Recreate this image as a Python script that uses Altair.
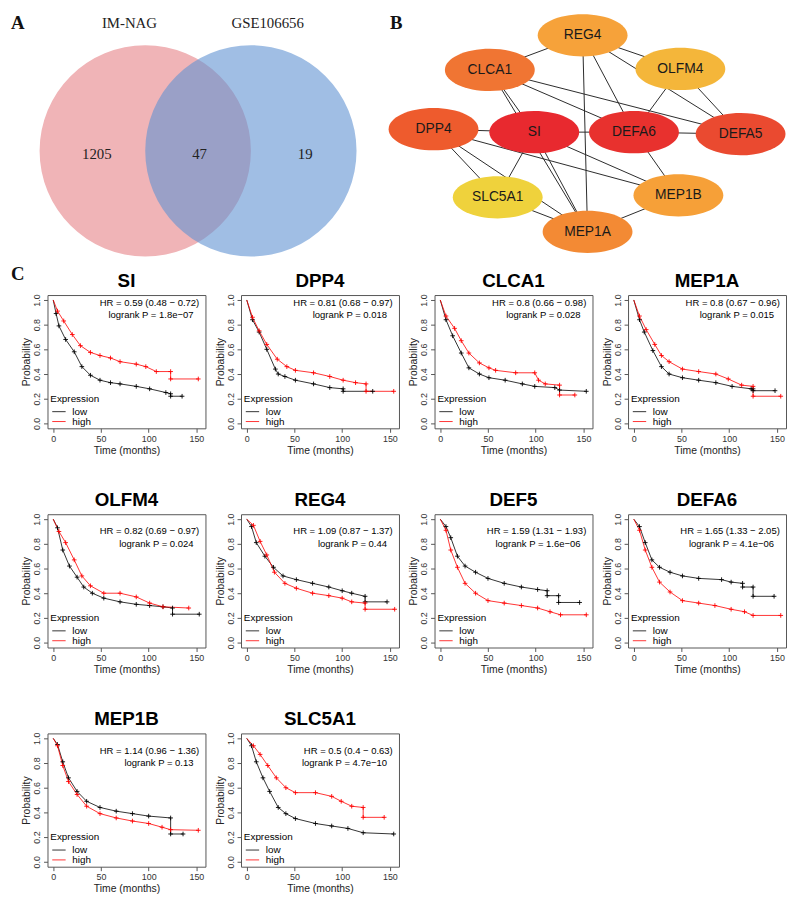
import altair as alt
import pandas as pd

# ---------------- Panel A : Venn ----------------
VENN_SETS = ["IM-NAG", "GSE106656"]
VENN_COUNTS = [1205, 47, 19]          # only IM-NAG, shared, only GSE106656
VENN_COLORS = ["#F0B4B7", "#6193D2"]

# ---------------- Panel B : network ----------------
NODES = ["REG4", "CLCA1", "OLFM4", "DPP4", "SI", "DEFA6", "DEFA5", "SLC5A1", "MEP1B", "MEP1A"]
NODE_COLORS = ["#F6A23A", "#F07533", "#F4B63A", "#EE5B2D", "#E8292F", "#E8312E",
               "#EA4A30", "#EFD23C", "#F6A038", "#F38A34"]
EDGES = [("REG4", "CLCA1"), ("REG4", "OLFM4"), ("REG4", "DEFA5"), ("REG4", "DEFA6"), ("REG4", "MEP1A"),
         ("CLCA1", "SI"), ("CLCA1", "MEP1A"), ("CLCA1", "DEFA6"), ("CLCA1", "DEFA5"),
         ("OLFM4", "DEFA6"), ("OLFM4", "DEFA5"),
         ("DPP4", "SI"), ("DPP4", "SLC5A1"), ("DPP4", "MEP1B"), ("DPP4", "MEP1A"),
         ("SI", "DEFA6"), ("SI", "SLC5A1"), ("SI", "MEP1A"), ("SI", "MEP1B"),
         ("DEFA6", "DEFA5"), ("DEFA6", "MEP1B"),
         ("SLC5A1", "MEP1A"), ("MEP1B", "MEP1A")]

# ---------------- Panel C : Kaplan-Meier ----------------
GENES = ["SI", "DPP4", "CLCA1", "MEP1A", "OLFM4", "REG4", "DEF5", "DEFA6", "MEP1B", "SLC5A1"]
HR = ["0.59 (0.48 \u2212 0.72)", "0.81 (0.68 \u2212 0.97)", "0.8 (0.66 \u2212 0.98)", "0.8 (0.67 \u2212 0.96)",
      "0.82 (0.69 \u2212 0.97)", "1.09 (0.87 \u2212 1.37)", "1.59 (1.31 \u2212 1.93)", "1.65 (1.33 \u2212 2.05)",
      "1.14 (0.96 \u2212 1.36)", "0.5 (0.4 \u2212 0.63)"]
LOGRANK_P = ["1.8e\u221207", "0.018", "0.028", "0.015", "0.024", "0.44", "1.6e\u221206", "4.1e\u221206",
             "0.13", "4.7e\u221210"]
GROUPS = ["low", "high"]
GROUP_COLORS = ["black", "red"]

SI_low = [(0, 1.0), (3, 0.89), (6, 0.79), (13, 0.68), (22, 0.58), (30, 0.46), (39, 0.39), (49, 0.35),
          (60, 0.33), (70, 0.32), (87, 0.30), (101, 0.28), (118, 0.25), (123, 0.24), (123, 0.22), (135, 0.22)]
SI_high = [(0, 1.0), (4.5, 0.91), (11, 0.83), (20, 0.72), (28.5, 0.63), (39, 0.575), (49, 0.55), (60, 0.53),
           (70, 0.50), (87, 0.48), (97, 0.46), (108, 0.42), (123, 0.42), (123, 0.36), (152, 0.36)]
DPP4_low = [(0, 1.0), (6, 0.84), (13, 0.74), (21, 0.60), (30, 0.44), (33, 0.40), (40, 0.38), (51, 0.35),
            (70, 0.32), (87, 0.29), (101, 0.28), (101, 0.26), (132, 0.26)]
DPP4_high = [(0, 1.0), (6, 0.86), (13, 0.75), (21, 0.64), (32, 0.52), (42, 0.46), (51, 0.43), (70, 0.41),
             (87, 0.38), (101, 0.35), (114, 0.33), (125, 0.32), (125, 0.26), (154, 0.26)]
CLCA1_low = [(0, 1.0), (6, 0.84), (13, 0.71), (22, 0.57), (30, 0.45), (41, 0.40), (51, 0.37), (68, 0.35),
             (86, 0.32), (99, 0.30), (120, 0.29), (125, 0.27), (153, 0.26)]
CLCA1_high = [(0, 1.0), (6, 0.87), (15, 0.77), (22, 0.67), (30, 0.57), (41, 0.49), (51, 0.45), (58, 0.43),
              (79, 0.41), (99, 0.41), (103, 0.35), (110, 0.32), (125, 0.31), (125, 0.23), (141, 0.23)]
MEP1A_low = [(0, 1.0), (6, 0.84), (11, 0.74), (20, 0.59), (29, 0.46), (37, 0.40), (51, 0.37), (68, 0.35),
             (86, 0.33), (103, 0.30), (123, 0.28), (125, 0.28), (125, 0.265), (148, 0.265)]
MEP1A_high = [(0, 1.0), (6, 0.87), (13, 0.76), (22, 0.64), (29, 0.55), (37, 0.50), (51, 0.44), (68, 0.42),
              (86, 0.40), (99, 0.36), (113, 0.31), (125, 0.30), (125, 0.22), (154, 0.22)]
OLFM4_low = [(0, 1.0), (4.5, 0.93), (10, 0.75), (17, 0.62), (25, 0.53), (32, 0.45), (41, 0.40), (53, 0.36),
             (70, 0.33), (87, 0.31), (101, 0.30), (115, 0.29), (125, 0.28), (125, 0.23), (153, 0.23)]
OLFM4_high = [(0, 1.0), (6, 0.90), (13, 0.81), (22, 0.67), (30, 0.54), (39, 0.46), (53, 0.40), (70, 0.40),
              (87, 0.37), (101, 0.32), (115, 0.29), (142, 0.28)]
REG4_low = [(0, 1.0), (5, 0.94), (10, 0.81), (19, 0.70), (28, 0.61), (38, 0.54), (52, 0.51), (69, 0.48),
            (86, 0.45), (100, 0.42), (110, 0.40), (124, 0.375), (124, 0.33), (147, 0.33)]
REG4_high = [(0, 1.0), (7, 0.95), (14, 0.82), (21, 0.71), (29, 0.57), (40, 0.48), (52, 0.44), (69, 0.40),
             (86, 0.38), (100, 0.36), (110, 0.33), (124, 0.32), (124, 0.27), (155, 0.27)]
DEF5_low = [(0, 1.0), (6, 0.94), (11, 0.85), (18, 0.70), (26, 0.62), (37, 0.57), (50, 0.52), (67, 0.48),
            (85, 0.45), (102, 0.43), (112, 0.42), (112, 0.38), (124, 0.38), (124, 0.325), (146, 0.325)]
DEF5_high = [(0, 1.0), (6, 0.91), (11, 0.75), (18, 0.61), (26, 0.48), (37, 0.40), (50, 0.34), (67, 0.32),
             (85, 0.30), (102, 0.28), (115, 0.25), (126, 0.225), (153, 0.225)]
DEFA6_low = [(0, 1.0), (6, 0.94), (12, 0.81), (19, 0.67), (27, 0.61), (38, 0.57), (51, 0.54), (68, 0.52),
             (92, 0.51), (102, 0.49), (114, 0.48), (114, 0.45), (125, 0.45), (125, 0.375), (147, 0.375)]
DEFA6_high = [(0, 1.0), (6, 0.91), (12, 0.75), (19, 0.61), (27, 0.49), (38, 0.41), (51, 0.34), (68, 0.32),
              (85, 0.30), (102, 0.27), (116, 0.25), (125, 0.22), (154, 0.22)]
MEP1B_low = [(0, 1.0), (4.5, 0.95), (10, 0.81), (16, 0.68), (25, 0.57), (35, 0.49), (49, 0.44), (66, 0.41),
             (83, 0.39), (100, 0.37), (123, 0.355), (123, 0.225), (136, 0.225)]
MEP1B_high = [(0, 1.0), (4.5, 0.94), (10, 0.78), (16, 0.65), (25, 0.545), (35, 0.45), (49, 0.39), (66, 0.355),
              (83, 0.33), (100, 0.31), (114, 0.28), (123, 0.26), (152, 0.255)]
SLC5A1_low = [(0, 1.0), (5, 0.94), (10, 0.81), (17, 0.68), (24, 0.57), (33, 0.44), (41, 0.39), (51, 0.35),
              (72, 0.31), (89, 0.29), (106, 0.27), (122, 0.235), (154, 0.225)]
SLC5A1_high = [(0, 1.0), (7, 0.94), (14, 0.87), (22, 0.78), (31, 0.68), (41, 0.60), (51, 0.56), (72, 0.56),
               (89, 0.53), (99, 0.49), (110, 0.45), (122, 0.44), (122, 0.36), (144, 0.36)]

CURVES = {"SI": (SI_low, SI_high), "DPP4": (DPP4_low, DPP4_high), "CLCA1": (CLCA1_low, CLCA1_high),
          "MEP1A": (MEP1A_low, MEP1A_high), "OLFM4": (OLFM4_low, OLFM4_high), "REG4": (REG4_low, REG4_high),
          "DEF5": (DEF5_low, DEF5_high), "DEFA6": (DEFA6_low, DEFA6_high), "MEP1B": (MEP1B_low, MEP1B_high),
          "SLC5A1": (SLC5A1_low, SLC5A1_high)}

# ---------------- layout (pixels of the top panel) ----------------
W0, H0 = 779, 262
VENN_CX = [136, 243]
VENN_CY = 138
VENN_D = 214                      # circle diameter in px
NODE_X = [579, 485, 678, 428, 530, 631, 739, 493, 676, 584]
NODE_Y = [21, 56, 55, 116, 119, 119, 121, 185, 183, 220]

SERIF = "Liberation Serif"
SANS = "Liberation Sans"

xs = alt.Scale(domain=[0, W0], nice=False, zero=False)
ys = alt.Scale(domain=[0, H0], nice=False, zero=False, reverse=True)


def PX(f):
    return alt.X(f, type="quantitative", scale=xs, axis=None)


def PY(f):
    return alt.Y(f, type="quantitative", scale=ys, axis=None)


venn_df = pd.DataFrame({"set": VENN_SETS, "x": VENN_CX, "y": [VENN_CY, VENN_CY],
                        "col": VENN_COLORS, "op": [1.0, 0.6]})
circles = alt.Chart(venn_df).mark_circle(size=VENN_D ** 2, strokeWidth=0).encode(
    x=PX("x"), y=PY("y"),
    color=alt.Color("col:N", scale=None),
    opacity=alt.Opacity("op:Q", scale=None),
)
set_lab = alt.Chart(pd.DataFrame({"txt": VENN_SETS, "x": [120, 260], "y": [9, 9]})).mark_text(
    font=SERIF, fontSize=15, color="#222", baseline="middle").encode(x=PX("x"), y=PY("y"), text="txt:N")
cnt_lab = alt.Chart(pd.DataFrame({"txt": [str(c) for c in VENN_COUNTS], "x": [87, 191, 298],
                                  "y": [141, 141, 141]})).mark_text(
    font=SERIF, fontSize=15, color="#222", baseline="middle").encode(x=PX("x"), y=PY("y"), text="txt:N")

pos = {n: (x, y) for n, x, y in zip(NODES, NODE_X, NODE_Y)}
edge_df = pd.DataFrame([{"x": pos[a][0], "y": pos[a][1], "x2": pos[b][0], "y2": pos[b][1]} for a, b in EDGES])
edges = alt.Chart(edge_df).mark_rule(color="#2a2a2a", strokeWidth=1).encode(
    x=PX("x"), y=PY("y"), x2="x2:Q", y2="y2:Q")
ELLIPSE = ("M -1 0 C -1 -0.26 -0.552 -0.47 0 -0.47 C 0.552 -0.47 1 -0.26 1 0 "
           "C 1 0.26 0.552 0.47 0 0.47 C -0.552 0.47 -1 0.26 -1 0 Z")
node_df = pd.DataFrame({"name": NODES, "x": NODE_X, "y": NODE_Y, "col": NODE_COLORS})
nodes = alt.Chart(node_df).mark_point(shape=ELLIPSE, size=91 * 91, filled=True, opacity=1, strokeWidth=0).encode(
    x=PX("x"), y=PY("y"), color=alt.Color("col:N", scale=None))
node_lab = alt.Chart(node_df).mark_text(font=SANS, fontSize=14, color="#1a1a1a", baseline="middle").encode(
    x=PX("x"), y=PY("y"), text="name:N")
panel_lab = alt.Chart(pd.DataFrame({"txt": ["A", "B", "C"], "x": [0, 384, 0], "y": [0, 0, 254]})).mark_text(
    font=SERIF, fontSize=19, fontWeight="bold", color="#111", align="left", baseline="top").encode(
    x=PX("x"), y=PY("y"), text="txt:N")

top = alt.layer(circles, set_lab, cnt_lab, edges, nodes, node_lab, panel_lab).properties(
    width=W0, height=H0, view=alt.ViewBackground(strokeOpacity=0))

# ---------------- KM panels ----------------
KM_W, KM_H = 160, 135
GCOL = dict(zip(GROUPS, GROUP_COLORS))


def km(k, hr_s, lr_s):
    gene = GENES[k]
    low, high = CURVES[gene]
    rows = []
    for grp, pts in zip(GROUPS, (low, high)):
        for i, (t, s) in enumerate(pts):
            rows.append({"grp": grp, "col": GCOL[grp], "t": t, "s": s, "i": i})
    df = pd.DataFrame(rows)
    xenc = alt.X("t:Q", scale=alt.Scale(domain=[-6, 159.5], nice=False, zero=False),
                 axis=alt.Axis(values=[0, 50, 100, 150], title="Time (months)", titlePadding=2))
    yenc = alt.Y("s:Q", scale=alt.Scale(domain=[-0.04, 1.04], nice=False, zero=False),
                 axis=alt.Axis(values=[0, 0.2, 0.4, 0.6, 0.8, 1.0], format=".1f", title="Probability",
                               labelAngle=270, labelAlign="center", labelBaseline="bottom", titlePadding=1))
    col = alt.Color("col:N", scale=None)
    base = alt.Chart(df)
    line = base.mark_line(strokeWidth=0.8).encode(x=xenc, y=yenc, color=col, detail="grp:N", order="i:Q")
    cens = base.transform_filter("datum.t > 0").mark_point(
        shape="M -1 0 L 1 0 M 0 -1 L 0 1", size=22, filled=False, strokeWidth=0.9, opacity=1).encode(
        x=xenc, y=yenc, color=col)
    hr_df = pd.DataFrame({"t": [153, 147], "s": [hr_s, lr_s],
                          "txt": [f"HR = {HR[k]}", f"logrank P = {LOGRANK_P[k]}"]})
    hr_txt = alt.Chart(hr_df).mark_text(font=SANS, fontSize=9.6, align="right", baseline="middle",
                                        color="black").encode(x=xenc, y=yenc, text="txt:N")
    lg_df = pd.DataFrame({"t": [-3, 20, 20], "s": [0.2, 0.095, 0.015], "txt": ["Expression"] + GROUPS})
    lg_txt = alt.Chart(lg_df).mark_text(font=SANS, fontSize=10, align="left", baseline="middle",
                                        color="black").encode(x=xenc, y=yenc, text="txt:N")
    lr_df = pd.DataFrame({"col": GROUP_COLORS, "t": [-1, -1], "t2": [13, 13], "s": [0.095, 0.015]})
    lg_line = alt.Chart(lr_df).mark_rule(strokeWidth=0.8).encode(x=xenc, x2="t2:Q", y=yenc, color=col)
    return alt.layer(line, cens, hr_txt, lg_txt, lg_line).properties(
        width=KM_W, height=KM_H,
        title=alt.TitleParams(gene, font=SANS, fontSize=19, fontWeight="bold", offset=3,
                              anchor="middle", color="black"))


def spacer():
    return alt.Chart(pd.DataFrame({"v": [0]})).mark_point(opacity=0).encode(
        x=alt.value(0), y=alt.value(0)).properties(width=1, height=KM_H,
                                                   view=alt.ViewBackground(strokeOpacity=0))


row1 = alt.hconcat(spacer(), *[km(k, 0.975, 0.88) for k in range(0, 4)], spacing=36, bounds="flush")
row2 = alt.hconcat(spacer(), *[km(k, 0.90, 0.80) for k in range(4, 8)], spacing=36, bounds="flush")
row3 = alt.hconcat(spacer(), *[km(k, 0.90, 0.80) for k in range(8, 10)], spacing=36, bounds="flush")
km_block = alt.vconcat(row1, row2, row3, spacing=222, bounds="flush")

chart = alt.vconcat(top, km_block, spacing=22, bounds="flush").properties(padding=0).configure_view(
    stroke="#555", strokeWidth=1).configure_axis(
    labelFont=SANS, labelFontSize=9, labelColor="#333", titleFont=SANS, titleFontSize=10.5,
    titleFontWeight="normal", titleColor="#222", tickColor="#555", tickSize=4, labelPadding=2,
    domain=False, grid=False).configure_title(font=SANS)

chart.save("out.html", embed_options={"renderer": "svg", "actions": False})
